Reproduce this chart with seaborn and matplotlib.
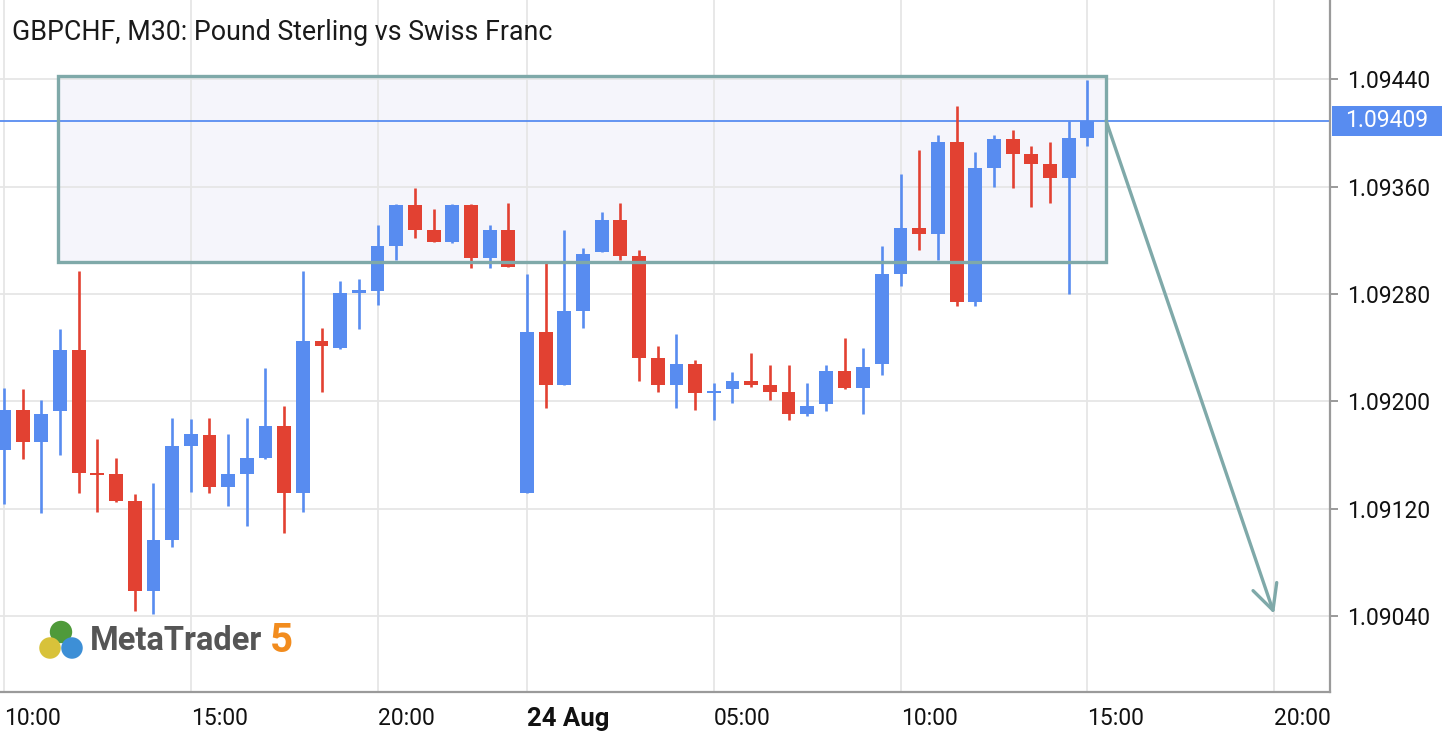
import numpy as np
import seaborn as sns
import matplotlib.pyplot as plt
import matplotlib.patches as mpatches
import matplotlib.transforms as mtransforms

# GBPCHF M30 candles, 23 Aug 10:00 -> 24 Aug 15:00
opens = [1.09164, 1.09194, 1.09170, 1.09193, 1.09238, 1.09147, 1.09146, 1.09126, 1.09059, 1.09097,
         1.09167, 1.09175, 1.09136, 1.09146, 1.09158, 1.09182, 1.09132, 1.09245, 1.09240, 1.09281,
         1.09282, 1.09316, 1.09346, 1.09328, 1.09319, 1.09346, 1.09307, 1.09328, 1.09132, 1.09252,
         1.09212, 1.09267, 1.09311, 1.09335, 1.09308, 1.09232, 1.09212, 1.09228, 1.09206, 1.09209,
         1.09215, 1.09212, 1.09207, 1.09191, 1.09198, 1.09223, 1.09210, 1.09228, 1.09295, 1.09329,
         1.09325, 1.09393, 1.09274, 1.09374, 1.09395, 1.09384, 1.09377, 1.09366, 1.09396]
highs = [1.09210, 1.09209, 1.09201, 1.09254, 1.09297, 1.09172, 1.09158, 1.09131, 1.09139, 1.09188,
         1.09187, 1.09188, 1.09176, 1.09188, 1.09225, 1.09197, 1.09297, 1.09255, 1.09290, 1.09291,
         1.09331, 1.09347, 1.09359, 1.09343, 1.09347, 1.09347, 1.09331, 1.09348, 1.09295, 1.09303,
         1.09328, 1.09314, 1.09341, 1.09348, 1.09313, 1.09241, 1.09250, 1.09231, 1.09214, 1.09222,
         1.09236, 1.09227, 1.09227, 1.09214, 1.09227, 1.09247, 1.09240, 1.09316, 1.09369, 1.09387,
         1.09398, 1.09420, 1.09386, 1.09398, 1.09402, 1.09390, 1.09393, 1.09409, 1.09439]
lows = [1.09124, 1.09157, 1.09117, 1.09160, 1.09132, 1.09118, 1.09125, 1.09044, 1.09042, 1.09092,
        1.09133, 1.09132, 1.09122, 1.09107, 1.09157, 1.09102, 1.09118, 1.09207, 1.09239, 1.09254,
        1.09272, 1.09305, 1.09322, 1.09319, 1.09318, 1.09299, 1.09299, 1.09300, 1.09132, 1.09195,
        1.09212, 1.09255, 1.09311, 1.09305, 1.09215, 1.09207, 1.09195, 1.09194, 1.09186, 1.09199,
        1.09211, 1.09201, 1.09186, 1.09189, 1.09193, 1.09209, 1.09191, 1.09220, 1.09286, 1.09313,
        1.09305, 1.09271, 1.09271, 1.09360, 1.09359, 1.09345, 1.09348, 1.09280, 1.09390]
closes = [1.09194, 1.09170, 1.09191, 1.09238, 1.09147, 1.09145, 1.09126, 1.09059, 1.09097, 1.09167,
          1.09176, 1.09136, 1.09146, 1.09158, 1.09182, 1.09132, 1.09245, 1.09241, 1.09281, 1.09283,
          1.09316, 1.09346, 1.09328, 1.09319, 1.09346, 1.09307, 1.09328, 1.09300, 1.09252, 1.09212,
          1.09267, 1.09310, 1.09335, 1.09308, 1.09232, 1.09212, 1.09228, 1.09206, 1.09208, 1.09215,
          1.09212, 1.09207, 1.09191, 1.09197, 1.09223, 1.09210, 1.09226, 1.09295, 1.09329, 1.09325,
          1.09393, 1.09274, 1.09374, 1.09395, 1.09384, 1.09377, 1.09366, 1.09396, 1.09409]

time_ticks = [0, 10, 20, 28, 38, 48, 58, 68]
time_labels = ['10:00', '15:00', '20:00', '24 Aug', '05:00', '10:00', '15:00', '20:00']
price_ticks = [1.09040, 1.09120, 1.09200, 1.09280, 1.09360, 1.09440]
last_price = 1.09409

# zone box and projected move
zone_x = (2.9, 59.0)
zone_y = (1.09304, 1.09442)
arrow_from = (59.0, 1.09409)
arrow_to = (68.0, 1.09042)

up_col = '#588cf0'
down_col = '#e24132'
zone_col = '#7fa9a9'

sns.set_theme(style='white')
plt.rcParams['font.family'] = ['Roboto', 'DejaVu Sans']

fig = plt.figure(figsize=(14.42, 7.40), dpi=100)
ax = fig.add_axes([0, 48 / 740, 1330 / 1442, 692 / 740])

x = np.arange(len(opens))
o = np.array(opens)
c = np.array(closes)
cols = [up_col if cc >= oo else down_col for oo, cc in zip(o, c)]

# zone fill (behind candles)
ax.add_patch(mpatches.Rectangle((zone_x[0], zone_y[0]), zone_x[1] - zone_x[0], zone_y[1] - zone_y[0],
                                facecolor='#f5f5fb', edgecolor='none', zorder=0.5))
ax.axhline(last_price, color=up_col, lw=1.3, zorder=1)

ax.vlines(x, lows, highs, colors=cols, lw=1.9, zorder=2)
ax.bar(x, np.abs(c - o), bottom=np.minimum(o, c), width=0.74, color=cols,
       edgecolor='none', linewidth=0, zorder=3)

# zone outline on top
ax.add_patch(mpatches.Rectangle((zone_x[0], zone_y[0]), zone_x[1] - zone_x[0], zone_y[1] - zone_y[0],
                                facecolor='none', edgecolor=zone_col, lw=2.4, zorder=4))
ax.annotate('', xy=arrow_to, xytext=arrow_from,
            arrowprops=dict(arrowstyle='->,head_length=0.9,head_width=0.45', color=zone_col,
                            lw=2.4, mutation_scale=20, shrinkA=0, shrinkB=0), zorder=4)

ax.set_xlim(-0.214, 70.99)
ax.set_ylim(1.089838, 1.094988)

ax.set_xticks(time_ticks)
ax.set_xticklabels(time_labels)
ax.yaxis.tick_right()
ax.set_yticks(price_ticks)
ax.set_yticklabels([f'{p:.5f}' for p in price_ticks])

ax.grid(True, color='#e6e6e6', lw=1.3, zorder=0)
ax.set_axisbelow(True)
for s in ['top', 'left']:
    ax.spines[s].set_visible(False)
for s in ['right', 'bottom']:
    ax.spines[s].set_color('#9a9a9a')
    ax.spines[s].set_linewidth(1.6)
ax.tick_params(axis='both', colors='#9a9a9a', length=6, width=1.4, labelcolor='#111111',
               labelsize=16.5)
ax.tick_params(axis='x', pad=5)
ax.tick_params(axis='y', pad=6)

for lab in ax.get_xticklabels():
    lab.set_horizontalalignment('left')
    if lab.get_text() == '24 Aug':
        lab.set_fontweight('bold')
        lab.set_fontsize(18.5)

# current price label
trans = mtransforms.blended_transform_factory(ax.transAxes, ax.transData)
ax.add_patch(mpatches.Rectangle((1.0015, last_price - 0.000112), 0.085, 0.000224,
                                transform=trans, facecolor=up_col, edgecolor='none',
                                clip_on=False, zorder=6))
ax.text(1345 / 1330, last_price, f'{last_price:.5f}', transform=trans, ha='left', va='center',
        fontsize=16.5, color='white', clip_on=False, zorder=7)

fig.text(12 / 1442, 1 - 33 / 740, 'GBPCHF, M30: Pound Sterling vs Swiss Franc',
         fontsize=19.3, color='#1a1a1a', va='center', ha='left')

# MetaTrader 5 watermark
ax.scatter([61 / 1330, 50 / 1330, 72 / 1330], [1 - 632 / 692, 1 - 648 / 692, 1 - 648 / 692],
           s=[260, 240, 240], c=['#4f9a3a', '#d8c23a', '#3d8fd6'], transform=ax.transAxes,
           zorder=5, clip_on=False, edgecolors='none')
ax.text(90 / 1330, 1 - 641 / 692, 'MetaTrader', transform=ax.transAxes, fontsize=23.5,
        fontweight='bold', color='#555555', va='center', ha='left')
ax.text(270 / 1330, 1 - 641 / 692, '5', transform=ax.transAxes, fontsize=29,
        fontweight='bold', color='#f28c1e', va='center', ha='left')

fig.savefig('out.png', dpi=100)
